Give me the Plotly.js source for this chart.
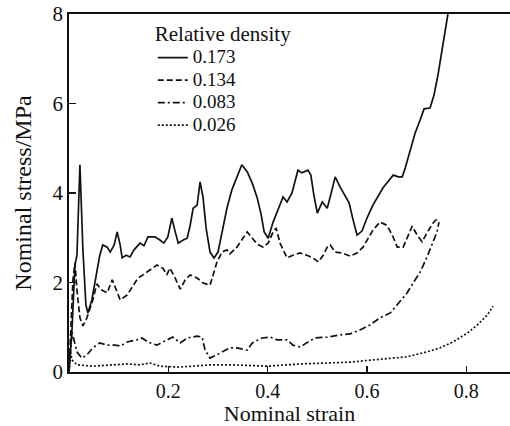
<!DOCTYPE html>
<html>
<head>
<meta charset="utf-8">
<script src="https://cdn.plot.ly/plotly-3.0.1.min.js"></script>
<style>html,body{margin:0;padding:0;background:#fff;}</style>
</head>
<body>
<div id="chart" style="width:510px;height:426px;"></div>
<script>
// Relative density 0.173 (solid)
const strain173 = [0,0.006,0.012,0.016,0.022,0.028,0.034,0.038,0.046,0.056,0.062,0.068,0.077,0.083,0.091,0.097,0.103,0.107,0.115,0.123,0.131,0.143,0.151,0.159,0.173,0.183,0.191,0.199,0.207,0.213,0.220,0.230,0.238,0.244,0.250,0.258,0.264,0.270,0.276,0.284,0.292,0.300,0.308,0.318,0.328,0.338,0.348,0.359,0.369,0.379,0.387,0.393,0.401,0.411,0.421,0.431,0.439,0.449,0.461,0.469,0.481,0.487,0.493,0.500,0.510,0.520,0.528,0.536,0.546,0.556,0.564,0.572,0.580,0.590,0.600,0.612,0.622,0.632,0.642,0.653,0.663,0.671,0.677,0.687,0.697,0.707,0.715,0.727,0.735,0.743,0.751,0.757,0.763];
const stress173 = [0,0.94,2.39,2.61,4.63,2.73,1.50,1.32,1.61,2.28,2.61,2.84,2.79,2.68,2.84,3.13,2.84,2.55,2.61,2.57,2.73,2.88,2.82,3.02,3.02,2.95,2.88,3.02,3.44,3.17,2.88,2.95,2.99,3.28,3.66,3.73,4.25,3.89,3.22,2.68,2.55,2.68,3.13,3.66,4.07,4.34,4.63,4.47,4.22,3.89,3.51,3.13,2.99,3.35,3.62,3.91,3.80,4.00,4.51,4.45,4.51,4.40,3.96,3.55,3.80,3.66,4.00,4.36,4.13,3.93,3.78,3.40,3.06,3.15,3.44,3.73,3.93,4.11,4.25,4.40,4.36,4.36,4.56,4.96,5.34,5.63,5.88,5.90,6.19,6.64,7.15,7.58,8.0];

// Relative density 0.134 (dashed)
const strain134 = [0,0.004,0.008,0.012,0.016,0.022,0.028,0.036,0.042,0.048,0.056,0.066,0.077,0.087,0.093,0.103,0.117,0.127,0.139,0.149,0.163,0.177,0.189,0.197,0.203,0.213,0.224,0.234,0.244,0.258,0.270,0.284,0.298,0.308,0.318,0.324,0.338,0.348,0.359,0.369,0.379,0.391,0.401,0.411,0.417,0.425,0.433,0.439,0.451,0.465,0.479,0.491,0.502,0.512,0.520,0.526,0.536,0.550,0.566,0.580,0.592,0.600,0.612,0.626,0.640,0.651,0.661,0.673,0.683,0.691,0.701,0.711,0.721,0.733,0.741];
const stress134 = [0,0.94,2.06,2.44,1.83,1.21,1.03,1.21,1.43,1.61,1.97,1.83,1.77,2.06,1.90,1.61,1.72,1.90,2.10,2.17,2.28,2.39,2.32,2.17,2.32,2.12,1.85,2.06,2.17,2.10,1.99,1.94,2.46,2.68,2.73,2.64,2.79,2.95,3.13,2.99,2.86,2.79,2.88,3.13,3.22,2.88,2.68,2.55,2.61,2.66,2.61,2.55,2.46,2.61,2.79,2.84,2.68,2.66,2.59,2.66,2.79,2.95,3.17,3.35,3.28,3.06,2.79,2.79,3.04,3.26,3.06,2.91,3.11,3.33,3.42];

// Relative density 0.083 (dash-dot)
const strain083 = [0,0.004,0.006,0.010,0.016,0.026,0.036,0.048,0.062,0.077,0.093,0.103,0.117,0.137,0.147,0.159,0.177,0.189,0.209,0.224,0.238,0.258,0.268,0.274,0.284,0.304,0.324,0.338,0.359,0.369,0.389,0.405,0.419,0.439,0.451,0.465,0.479,0.495,0.520,0.546,0.566,0.586,0.606,0.626,0.647,0.663,0.681,0.693,0.707,0.721,0.731,0.741,0.745];
const stress083 = [0,0.60,0.89,0.72,0.45,0.31,0.38,0.54,0.65,0.60,0.60,0.58,0.67,0.72,0.76,0.67,0.60,0.67,0.78,0.65,0.76,0.80,0.78,0.49,0.31,0.42,0.54,0.54,0.49,0.65,0.76,0.78,0.72,0.72,0.60,0.56,0.65,0.76,0.78,0.83,0.85,0.94,1.05,1.21,1.32,1.54,1.77,1.99,2.23,2.57,2.84,3.13,3.35];

// Relative density 0.026 (dotted)
const strain026 = [0,0.002,0.006,0.016,0.048,0.083,0.117,0.143,0.163,0.183,0.218,0.250,0.284,0.330,0.399,0.465,0.532,0.566,0.612,0.681,0.721,0.747,0.773,0.802,0.822,0.842,0.854];
const stress026 = [0,0.49,0.27,0.16,0.13,0.16,0.18,0.16,0.20,0.13,0.11,0.13,0.16,0.16,0.13,0.18,0.20,0.22,0.27,0.34,0.45,0.54,0.67,0.87,1.05,1.27,1.47];

const densityLabels = ['0.173','0.134','0.083','0.026'];
const xTickVals = [0.2,0.4,0.6,0.8];
const xTickText = ['0.2','0.4','0.6','0.8'];
const yTickVals = [0,2,4,6,8];
const yTickText = ['0','2','4','6','8'];

const series = [
  {x: strain173, y: stress173, dash: 'solid'},
  {x: strain134, y: stress134, dash: '6px,3px'},
  {x: strain083, y: stress083, dash: '7px,3px,2px,3px'},
  {x: strain026, y: stress026, dash: '2px,2px'}
];

const FONT = 'Liberation Serif, Times New Roman, serif';
const INK = '#111';

const traces = series.map((s, i) => ({
  type: 'scatter', mode: 'lines',
  x: s.x, y: s.y,
  name: '<span style="font-size:19px">' + densityLabels[i] + '</span>',
  line: {color: INK, width: 1.7, dash: s.dash},
  cliponaxis: true
}));

const layout = {
  width: 510, height: 426,
  margin: {l: 69, r: 0, t: 14, b: 54, pad: 0},
  paper_bgcolor: '#fff', plot_bgcolor: '#fff',
  font: {family: FONT, size: 20, color: INK},
  showlegend: true,
  legend: {
    x: 0.19, y: 1.0, xanchor: 'left', yanchor: 'top',
    bgcolor: 'rgba(0,0,0,0)', borderwidth: 0,
    font: {family: FONT, size: 15, color: INK},
    title: {text: 'Relative density', font: {family: FONT, size: 21, color: INK}},
    itemwidth: 30, tracegroupgap: 0
  },
  xaxis: {
    range: [0, 0.888], tickvals: xTickVals, ticktext: xTickText,
    ticks: 'inside', ticklen: 6, tickwidth: 1.5, tickcolor: INK,
    showline: true, linewidth: 1.7, linecolor: INK, mirror: true,
    showgrid: false, zeroline: false,
    tickfont: {family: FONT, size: 20, color: INK},
    title: {text: 'Nominal strain', font: {family: FONT, size: 22, color: INK}, standoff: 7}
  },
  yaxis: {
    range: [0, 8], tickvals: yTickVals, ticktext: yTickText,
    ticks: 'inside', ticklen: 7, tickwidth: 1.5, tickcolor: INK,
    showline: true, linewidth: 1.7, linecolor: INK, mirror: false,
    showgrid: false, zeroline: false,
    tickfont: {family: FONT, size: 21, color: INK},
    title: {text: 'Nominal stress/MPa', font: {family: FONT, size: 24, color: INK}, standoff: 14}
  }
};

Plotly.newPlot('chart', traces, layout, {staticPlot: true, displayModeBar: false});
</script>
</body>
</html>
